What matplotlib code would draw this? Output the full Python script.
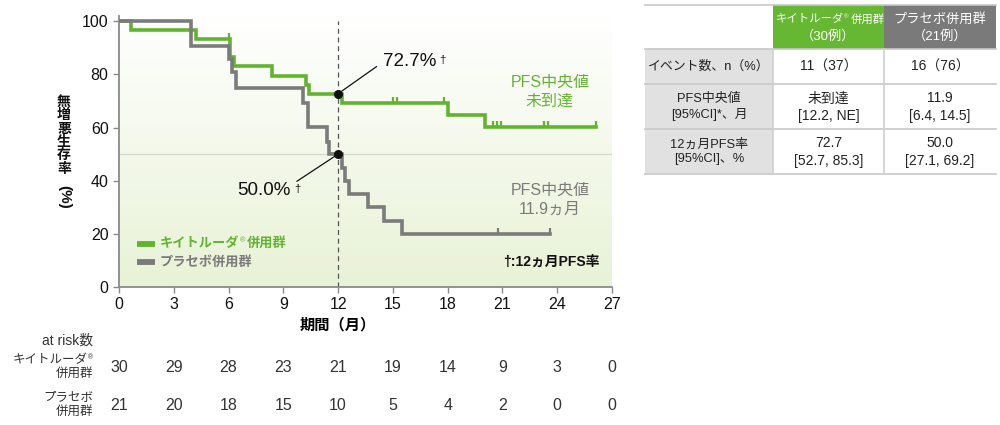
import matplotlib
matplotlib.use("Agg")
import matplotlib.pyplot as plt
import matplotlib.transforms as mtransforms
import numpy as np

plt.rcParams['font.family'] = ['Liberation Sans', 'Noto Sans CJK JP', 'DejaVu Sans']

GREEN = '#62b42f'
GRAY = '#7b7b7b'

# Kaplan-Meier steps (months, PFS %)
keytruda_t = [0, 0.66, 4.2, 6.1, 6.3, 8.36, 10.25, 10.43, 12.2, 18.0, 20.05]
keytruda_s = [100, 96.7, 93.3, 86.7, 83.3, 79.5, 76.0, 72.7, 69.2, 64.7, 60.1]
keytruda_end = 26.1
keytruda_cens = [6.0, 15.0, 15.2, 17.8, 20.5, 20.7, 20.9, 23.3, 23.5, 26.1]

placebo_t = [0, 3.93, 6.0, 6.2, 6.4, 10.1, 10.37, 11.38, 11.52, 12.2, 12.38, 12.57, 13.66, 14.52, 15.49]
placebo_s = [100, 90.5, 85.7, 81.0, 75.0, 69.1, 60.3, 54.7, 50.0, 44.7, 39.7, 34.9, 30.0, 25.0, 20.0]
placebo_end = 23.6
placebo_cens = [20.75, 23.6]

pfs12_keytruda = 72.7
pfs12_placebo = 50.0

risk_times = [0, 3, 6, 9, 12, 15, 18, 21, 24, 27]
risk_keytruda = [30, 29, 28, 23, 21, 19, 14, 9, 3, 0]
risk_placebo = [21, 20, 18, 15, 10, 5, 4, 2, 0, 0]

ylabel_chars = ['無', '増', '悪', '生', '存', '率']
table_rows = [
    ['イベント数、n（%）', '11（37）', '16（76）'],
    ['PFS中央値\n[95%CI]*、月', '未到達\n[12.2, NE]', '11.9\n[6.4, 14.5]'],
    ['12ヵ月PFS率\n[95%CI]、%', '72.7\n[52.7, 85.3]', '50.0\n[27.1, 69.2]'],
]


def surv_at(ts, ss, t):
    i = np.searchsorted(ts, t, side='right') - 1
    return ss[i]


def brand(axis, x, y, size, color, suffix, weight='normal', ha='left', trans=None):
    # "キイトルーダ" + superscript ® + suffix
    kw = dict(fontsize=size, color=color, fontweight=weight, va='center')
    if trans is None:
        trans = axis.transData
    if ha == 'left':
        t = axis.text(x, y, 'キイトルーダ', ha='left', transform=trans, **kw)
        r = axis.annotate('®', xy=(1, 0.75), xycoords=t, fontsize=size * 0.55, color=color,
                          va='center', ha='left')
        axis.annotate(suffix, xy=(1, 0.5), xycoords=t, xytext=(size * 0.55, 0),
                      textcoords='offset points', ha='left', **kw)
    else:
        r = axis.text(x, y, '®', ha='right', transform=trans, fontsize=size * 0.55,
                      color=color, va='center')
        axis.annotate('キイトルーダ', xy=(0, 0.15), xycoords=r, ha='right', **kw)
    return r


fig = plt.figure(figsize=(10, 4.25), dpi=100)

# overlay in pixel coords for the table and labels
tax = fig.add_axes([0, 0, 1, 1])
tax.set_xlim(0, 1000)
tax.set_ylim(425, 0)
tax.axis('off')

ax = fig.add_axes([0.119, 0.3247, 0.493, 0.638])
ax.set_xlim(0, 27)
ax.set_ylim(0, 102)

# gradient background
grad = np.linspace(0, 1, 256).reshape(-1, 1)
top = np.array([1.0, 1.0, 1.0])
bot = np.array([0.91, 0.95, 0.84])
img = top + (bot - top) * grad[:, :, None] * np.ones((1, 1, 3))
ax.imshow(img, extent=[0, 27, 0, 102], origin='upper', aspect='auto', zorder=0)

ax.axhline(50, color='#d6dccb', lw=1, zorder=1)
ax.plot([12, 12], [0, 100], color='#555555', lw=0.9, ls=(0, (4, 3)), zorder=2)

cens_marker = [(0, 0), (0, 1)]
for ts, ss, end, cens, col in [
        (keytruda_t, keytruda_s, keytruda_end, keytruda_cens, GREEN),
        (placebo_t, placebo_s, placebo_end, placebo_cens, GRAY)]:
    x = list(ts) + [end]
    y = list(ss) + [ss[-1]]
    ax.step(x, y, where='post', color=col, lw=2.6, zorder=3, solid_joinstyle='miter')
    cy = [surv_at(ts, ss, c) for c in cens]
    ax.plot(cens, cy, ls='none', marker=cens_marker, ms=9, mec=col, mew=1.6, zorder=3)

# 12-month markers
ax.plot([12], [pfs12_keytruda], 'o', color='#111111', ms=5.5, zorder=5)
ax.plot([12], [pfs12_placebo], 'o', color='#111111', ms=5.5, zorder=5)
ax.plot([12, 14.1], [pfs12_keytruda, 82.9], color='#111111', lw=0.9, zorder=4)
ax.plot([12, 9.75], [pfs12_placebo, 39.8], color='#111111', lw=0.9, zorder=4)
t1 = ax.text(14.45, 84.7, '%.1f%%' % pfs12_keytruda, fontsize=13.5, va='center', ha='left',
             color='#111111')
ax.annotate('†', xy=(1, 0.9), xycoords=t1, xytext=(2, 0), textcoords='offset points',
            fontsize=8, va='top', ha='left', color='#111111')
t2 = ax.text(6.5, 36.3, '%.1f%%' % pfs12_placebo, fontsize=13.5, va='center', ha='left',
             color='#111111')
ax.annotate('†', xy=(1, 0.9), xycoords=t2, xytext=(2, 0), textcoords='offset points',
            fontsize=8, va='top', ha='left', color='#111111')

ax.text(23.6, 77.0, 'PFS中央値', fontsize=11.5, color=GREEN, ha='center', va='center')
ax.text(23.6, 69.8, '未到達', fontsize=11.5, color=GREEN, ha='center', va='center')
ax.text(23.6, 36.5, 'PFS中央値', fontsize=11.5, color=GRAY, ha='center', va='center')
ax.text(23.6, 29.3, '11.9ヵ月', fontsize=11.5, color=GRAY, ha='center', va='center')
ax.text(26.3, 9.6, '†:12ヵ月PFS率', fontsize=10, color='#111111', ha='right', va='center',
        fontweight='bold')

# legend
ax.plot([0.97, 1.97], [16.3, 16.3], color=GREEN, lw=4.2, solid_capstyle='butt')
ax.plot([0.97, 1.97], [9.4, 9.4], color=GRAY, lw=4.2, solid_capstyle='butt')
brand(ax, 2.25, 16.3, 9.5, GREEN, '併用群', weight='bold')
ax.text(2.25, 9.4, 'プラセボ併用群', fontsize=9.5, color=GRAY, va='center', fontweight='bold')

for s in ['top', 'right']:
    ax.spines[s].set_visible(False)
for s in ['left', 'bottom']:
    ax.spines[s].set_color('#8a8a8a')
    ax.spines[s].set_linewidth(1.3)
ax.set_xticks(range(0, 28, 3))
ax.set_yticks(range(0, 101, 20))
ax.tick_params(colors='#8a8a8a', labelcolor='#111111', labelsize=11.5, length=4, width=1)

# y label (vertical writing)
for k, ch in enumerate(ylabel_chars):
    tax.text(64, 102 + 13.3 * k, ch, fontsize=10, fontweight='bold', ha='center',
             va='center', color='#111111')
tax.text(64, 197, '(%)', fontsize=11, fontweight='bold', rotation=-90,
         ha='center', va='center', color='#111111')

# x label and at-risk table
trans = mtransforms.blended_transform_factory(ax.transData, fig.transFigure)
ax.text(12, 1 - 325 / 425, '期間（月）', transform=trans, fontsize=11, fontweight='bold',
        ha='center', va='center')
tax.text(93, 341, 'at risk数', fontsize=10, ha='right', va='center', color='#333333')
brand(tax, 93, 358, 9, '#333333', '', ha='right')
tax.text(93, 374, '併用群', fontsize=9, ha='right', va='center', color='#333333')
tax.text(93, 397, 'プラセボ', fontsize=9, ha='right', va='center', color='#333333')
tax.text(93, 412, '併用群', fontsize=9, ha='right', va='center', color='#333333')
for t, a, b in zip(risk_times, risk_keytruda, risk_placebo):
    ax.text(t, 1 - 367 / 425, str(a), transform=trans, fontsize=11.5, ha='center', va='center',
            color='#333333')
    ax.text(t, 1 - 405 / 425, str(b), transform=trans, fontsize=11.5, ha='center', va='center',
            color='#333333')

# summary table
col_x = [645, 773, 884, 996]
row_y = [5, 49, 84, 129, 174]
tax.add_patch(plt.Rectangle((col_x[1], row_y[0]), col_x[2] - col_x[1], row_y[1] - row_y[0],
                            color='#66b832', lw=0))
tax.add_patch(plt.Rectangle((col_x[2], row_y[0]), col_x[3] - col_x[2], row_y[1] - row_y[0],
                            color='#7a7a7a', lw=0))
brand(tax, col_x[1] + 3, 19, 8.2, 'white', '併用群')
tax.text((col_x[1] + col_x[2]) / 2, 36, '（30例）', fontsize=9.5, color='white',
         ha='center', va='center')
tax.text((col_x[2] + col_x[3]) / 2, 19, 'プラセボ併用群', fontsize=9.5, color='white',
         ha='center', va='center')
tax.text((col_x[2] + col_x[3]) / 2, 36, '（21例）', fontsize=9.5, color='white',
         ha='center', va='center')
for i, row in enumerate(table_rows):
    y0, y1 = row_y[i + 1], row_y[i + 2]
    tax.add_patch(plt.Rectangle((col_x[0], y0), col_x[1] - col_x[0], y1 - y0,
                                color='#e1e1e1', lw=0))
    for j, txt in enumerate(row):
        tax.text((col_x[j] + col_x[j + 1]) / 2, (y0 + y1) / 2 + 0.5, txt, ha='center',
                 va='center', fontsize=9.3 if j == 0 else 10, color='#222222', linespacing=1.3)
for k, yy in enumerate(row_y):
    tax.plot([col_x[0], col_x[-1]], [yy, yy], color='#c8c8c8', lw=1.2)
for xx in col_x[1:-1]:
    tax.plot([xx, xx], [row_y[1], row_y[-1]], color='#d0d0d0', lw=1.2)

fig.savefig('out.png', dpi=100)
